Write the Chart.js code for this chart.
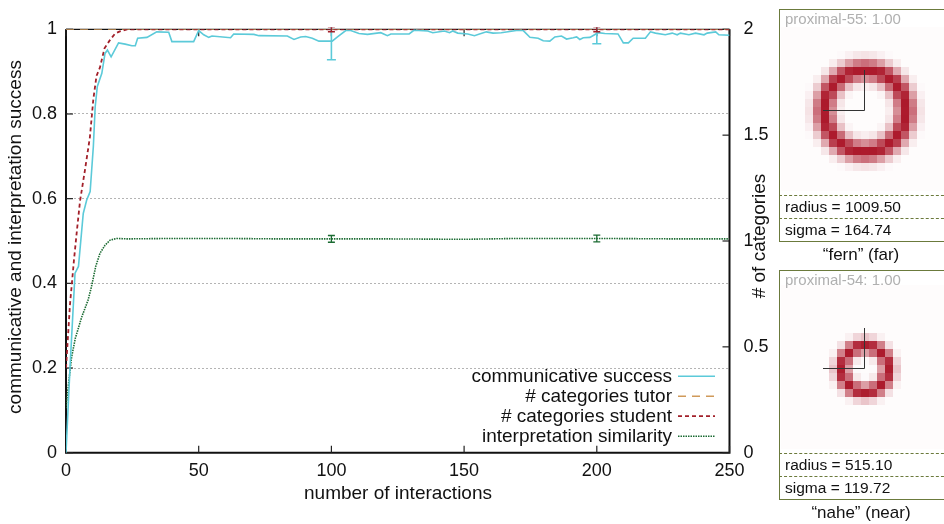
<!DOCTYPE html>
<html>
<head>
<meta charset="utf-8">
<script src="https://cdn.jsdelivr.net/npm/chart.js@4.4.0/dist/chart.umd.min.js"></script>
<style>
body { margin: 0; background: #fff; }
#wrap { position: relative; width: 944px; height: 524px; overflow: hidden; font-family: 'Liberation Sans', Arial, sans-serif; }
#chartBox { position: absolute; left: 0; top: 0; width: 944px; height: 524px; }
.panel { position: absolute; left: 779px; width: 175px; box-sizing: border-box; border: 1.5px solid #6b7a3c; }
.abs { position: absolute; white-space: nowrap; }
.dash { position: absolute; left: 779px; width: 170px; border-top: 1.5px dashed #6b7a3c; }
.lbl { color: #b0b0b0; font-size: 15px; line-height: 18px; left: 785px; }
.val { color: #111; font-size: 15.5px; line-height: 19px; left: 785px; }
.cap { color: #111; font-size: 17px; line-height: 20px; left: 779px; width: 164px; text-align: center; }
</style>
</head>
<body>
<div id="wrap">
  <div id="chartBox"><canvas id="lineChart"></canvas></div>
</div>
<script>
// number of interactions vs. communicative success
const commX = [0, 1.5, 3.4, 4.7, 6.5, 7.8, 9.1, 10.3, 11.0, 11.8,
  13.5, 14.7, 15.6, 17.0, 19.8, 22.3, 24.8, 26.1, 27.0, 30.5,
  34.2, 38.7, 39.9, 48.1, 50.0, 51.9, 53.8, 55.0, 62.0, 63.2,
  70.8, 72.7, 83.4, 85.9, 88.4, 90.3, 92.8, 95.3, 100.3, 102.3,
  105.4, 107.3, 110.4, 113.6, 118.6, 121.1, 122.4, 129.3, 131.2, 136.3,
  138.2, 142.6, 144.5, 145.7, 147.6, 151.4, 153.9, 155.8, 158.4, 160.9,
  164.0, 169.7, 172.3, 174.8, 177.9, 179.8, 182.3, 184.2, 186.7, 188.6,
  191.1, 192.4, 193.6, 194.9, 197.4, 200.5, 203.0, 208.0, 210.0, 211.9,
  213.7, 218.3, 220.2, 222.1, 225.8, 228.4, 230.3, 231.5, 234.7, 237.2,
  240.4, 241.6, 244.8, 246.0, 250];
const commY = [0, 0.2, 0.424, 0.44, 0.565, 0.597, 0.617, 0.723, 0.817, 0.865,
  0.896, 0.943, 0.951, 0.935, 0.968, 0.965, 0.961, 0.961, 0.979, 0.981,
  0.994, 0.993, 0.971, 0.971, 0.997, 0.987, 0.981, 0.984, 0.980, 0.989,
  0.988, 0.985, 0.984, 0.976, 0.982, 0.983, 0.979, 0.972, 0.972, 0.982,
  0.997, 0.997, 0.990, 0.988, 0.992, 0.985, 0.989, 0.989, 0.998, 0.996,
  0.992, 0.996, 0.992, 0.996, 0.991, 0.989, 0.985, 0.989, 0.994, 0.991,
  0.992, 0.997, 0.997, 0.981, 0.979, 0.973, 0.972, 0.982, 0.984, 0.977,
  0.980, 0.982, 0.976, 0.980, 0.981, 0.992, 0.990, 0.989, 0.968, 0.968,
  0.979, 0.979, 0.994, 0.991, 0.987, 0.991, 0.987, 0.991, 0.987, 0.991,
  0.987, 0.991, 0.994, 0.987, 0.986];

// # categories (right axis)
const tutorX = [0, 250];
const tutorY = [2, 2];
const studentX = [0, 0.3, 1.5, 3.0, 4.2, 5.3, 7.2, 9.0, 10.3, 11.5, 12.8, 14.5, 16.6, 18.5, 20.3, 23, 250];
const studentY = [0.4, 0.46, 0.7, 0.91, 1.06, 1.19, 1.34, 1.49, 1.67, 1.78, 1.82, 1.91, 1.95, 1.98, 1.99, 2.0, 2.0];

// interpretation similarity
const simX = [0, 0.9, 2.1, 3.5, 5.9, 8.3, 9.6, 11.2, 12.8, 14.7, 16.6, 19.1, 23, 40, 60, 80, 100, 120, 150, 170, 200, 230, 250];
const simY = [0.105, 0.16, 0.225, 0.27, 0.32, 0.36, 0.392, 0.44, 0.471, 0.49, 0.502, 0.506, 0.505, 0.506, 0.506, 0.505, 0.505, 0.505, 0.504, 0.506, 0.506, 0.505, 0.505];

// error bars
const errX = [100, 200];
const commErrMean = [0.972, 0.992];
const commErr = [0.044, 0.026];
const simErrMean = [0.505, 0.506];
const simErr = [0.008, 0.008];
const studentErrMean = [2, 2];
const studentErr = [0.012, 0.012];

// side panels
const panelNames = ['proximal-55', 'proximal-54'];
const panelScores = [1.00, 1.00];
const panelRadius = [1009.50, 515.10];
const panelSigma = [164.74, 119.72];
const panelCaptions = ['\u201cfern\u201d (far)', '\u201cnahe\u201d (near)'];

const FONT = "'Liberation Sans', Arial, sans-serif";

function pts(xs, ys) {
  return xs.map((x, i) => ({ x: x, y: ys[i] }));
}

const datasets = [
  { label: 'communicative success', data: pts(commX, commY), borderColor: '#5ccad9', borderWidth: 1.6, yAxisID: 'y', order: 1 },
  { label: '# categories tutor', data: pts(tutorX, tutorY), borderColor: '#d09a5a', borderWidth: 1.6, borderDash: [8, 6], yAxisID: 'y2', order: 3 },
  { label: '# categories student', data: pts(studentX, studentY), borderColor: '#a2202a', borderWidth: 1.8, borderDash: [4, 3], yAxisID: 'y2', order: 2 },
  { label: 'interpretation similarity', data: pts(simX, simY), borderColor: '#1b6b32', borderWidth: 1.6, borderDash: [1.5, 1], yAxisID: 'y', order: 4 }
];
datasets.forEach(d => { d.pointRadius = 0; d.fill = false; d.tension = 0; });

const framePlugin = {
  id: 'frame',
  beforeDatasetsDraw(chart) {
    const { ctx, chartArea: a, scales } = chart;
    ctx.save();
    ctx.strokeStyle = '#111';
    ctx.lineWidth = 2;
    ctx.beginPath();
    ctx.moveTo(a.left, a.top); ctx.lineTo(a.left, a.bottom); ctx.lineTo(a.right, a.bottom); ctx.lineTo(a.right, a.top);
    ctx.stroke();
    ctx.lineWidth = 1.3;
    ctx.beginPath(); ctx.moveTo(a.left, a.top); ctx.lineTo(a.right, a.top); ctx.stroke();
    // inward ticks
    ctx.lineWidth = 1.2;
    ctx.strokeStyle = '#222';
    scales.x.ticks.forEach(t => {
      const px = scales.x.getPixelForValue(t.value);
      ctx.beginPath();
      ctx.moveTo(px, a.bottom); ctx.lineTo(px, a.bottom - 7);
      ctx.moveTo(px, a.top); ctx.lineTo(px, a.top + 7);
      ctx.stroke();
    });
    scales.y.ticks.forEach(t => {
      const py = scales.y.getPixelForValue(t.value);
      ctx.beginPath(); ctx.moveTo(a.left, py); ctx.lineTo(a.left + 7, py); ctx.stroke();
    });
    scales.y2.ticks.forEach(t => {
      const py = scales.y2.getPixelForValue(t.value);
      ctx.beginPath(); ctx.moveTo(a.right, py); ctx.lineTo(a.right - 7, py); ctx.stroke();
    });
    ctx.restore();
  },
  afterDatasetsDraw(chart) {
    const { ctx, chartArea: a, scales } = chart;
    ctx.save();
    ctx.beginPath();
    ctx.rect(a.left - 2, a.top - 2, a.right - a.left + 4, a.bottom - a.top + 4);
    ctx.clip();
    const bars = (mean, err, scale, color, cap, width) => {
      ctx.strokeStyle = color;
      ctx.lineWidth = width;
      errX.forEach((x, i) => {
        const px = scales.x.getPixelForValue(x);
        const lo = scale.getPixelForValue(mean[i] - err[i]);
        const hi = scale.getPixelForValue(mean[i] + err[i]);
        ctx.beginPath();
        ctx.moveTo(px, lo); ctx.lineTo(px, hi);
        ctx.moveTo(px - cap, lo); ctx.lineTo(px + cap, lo);
        ctx.moveTo(px - cap, hi); ctx.lineTo(px + cap, hi);
        ctx.stroke();
      });
    };
    bars(commErrMean, commErr, scales.y, '#5ccad9', 4.5, 1.6);
    bars(simErrMean, simErr, scales.y, '#1b6b32', 3.5, 1.3);
    bars(studentErrMean, studentErr, scales.y2, '#a2202a', 3.5, 1.5);
    ctx.restore();

    // legend, text right aligned with the sample after it
    ctx.save();
    ctx.font = '19px ' + FONT;
    ctx.textAlign = 'right';
    ctx.textBaseline = 'middle';
    chart.data.datasets.forEach((d, i) => {
      const y = a.bottom - 76.5 + i * 20;
      ctx.fillStyle = '#111';
      ctx.fillText(d.label, a.right - 57.5, y + 1);
      ctx.strokeStyle = d.borderColor;
      ctx.lineWidth = d.borderWidth;
      ctx.setLineDash(d.borderDash || []);
      ctx.beginPath();
      ctx.moveTo(a.right - 51.5, y); ctx.lineTo(a.right - 14.5, y);
      ctx.stroke();
    });
    ctx.restore();
  },
  afterDraw(chart) {
    const { ctx, chartArea: a } = chart;
    ctx.save();
    ctx.font = '19px ' + FONT;
    ctx.fillStyle = '#111';
    ctx.textAlign = 'center';
    ctx.textBaseline = 'middle';
    ctx.fillText('number of interactions', 398, 494);
    ctx.translate(16, 237);
    ctx.rotate(-Math.PI / 2);
    ctx.fillText('communicative and interpretation success', 0, 0);
    ctx.restore();
    ctx.save();
    ctx.font = '19px ' + FONT;
    ctx.fillStyle = '#111';
    ctx.textAlign = 'center';
    ctx.textBaseline = 'middle';
    ctx.translate(760, 236);
    ctx.rotate(-Math.PI / 2);
    ctx.fillText('# of categories', 0, 0);
    ctx.restore();
  }
};

const tickFont = { family: FONT, size: 18 };
const plainNum = v => String(+Number(v).toFixed(2));

// eslint-disable-next-line
const lineChart = new Chart(
  document.getElementById('lineChart'),
  {
    type: 'line',
    data: { datasets: datasets },
    options: {
      responsive: true,
      maintainAspectRatio: false,
      animation: false,
      layout: { padding: { top: 29.3, left: 0, right: 0, bottom: 0 } },
      plugins: { legend: { display: false }, tooltip: { enabled: false } },
      scales: {
        x: {
          type: 'linear', min: 0, max: 250,
          ticks: { stepSize: 50, padding: 8, color: '#111', font: tickFont, maxRotation: 0, callback: plainNum },
          grid: { display: false, drawTicks: false },
          border: { display: false },
          afterFit: s => { s.height = 71.3; }
        },
        y: {
          position: 'left', min: 0, max: 1,
          ticks: { stepSize: 0.2, padding: 9, color: '#111', font: tickFont, callback: plainNum },
          grid: {
            drawTicks: false, lineWidth: 1,
            color: c => (c.tick.value === 0 || c.tick.value === 1) ? 'rgba(0,0,0,0)' : '#b4b4b4'
          },
          border: { display: false, dash: [2, 2] },
          afterFit: s => { s.width = 66; }
        },
        y2: {
          position: 'right', min: 0, max: 2,
          ticks: { stepSize: 0.5, padding: 14, color: '#111', font: tickFont, callback: plainNum },
          grid: { display: false, drawTicks: false },
          border: { display: false },
          afterFit: s => { s.width = 214.5; }
        }
      }
    },
    plugins: [framePlugin]
  }
);

// side panels with the category heat maps
const wrap = document.getElementById('wrap');
function add(cls, text, top, extra) {
  const el = document.createElement('div');
  el.className = cls;
  el.style.top = top + 'px';
  if (text) el.textContent = text;
  if (extra) Object.assign(el.style, extra);
  wrap.appendChild(el);
  return el;
}

function drawRing(cv, radius, sigma) {
  const c = cv.getContext('2d');
  const R = radius * 0.036 + 4.5, s = sigma * 0.045, cell = 8, cx = 84, cy = 84;
  for (let i = 0; i < 21; i++) {
    for (let j = 0; j < 21; j++) {
      const mx = i * cell + cell / 2, my = j * cell + cell / 2;
      const d = Math.hypot(mx - cx, my - cy);
      let t = Math.exp(-((d - R) * (d - R)) / (2 * s * s));
      t = Math.max(t, 0.012);
      const r = Math.round(255 - t * (255 - 172));
      const g = Math.round(255 - t * (255 - 26));
      const b = Math.round(255 - t * (255 - 44));
      c.fillStyle = 'rgb(' + r + ',' + g + ',' + b + ')';
      c.fillRect(i * cell, j * cell, cell, cell);
    }
  }
  c.strokeStyle = '#333';
  c.lineWidth = 1;
  c.beginPath();
  c.moveTo(cx - 0.5, cy - 41); c.lineTo(cx - 0.5, cy - 0.5); c.lineTo(cx - 42, cy - 0.5);
  c.stroke();
}

const panelTops = [9, 270];
const panelHeights = [233, 230];
panelNames.forEach((name, k) => {
  const top = panelTops[k];
  const h = panelHeights[k];
  add('panel', '', top, { height: h + 'px' });
  const cv = document.createElement('canvas');
  cv.width = 163; cv.height = 164;
  Object.assign(cv.style, { position: 'absolute', left: '780.5px', top: (top + (k === 0 ? 18 : 15)) + 'px' });
  wrap.appendChild(cv);
  drawRing(cv, panelRadius[k], panelSigma[k]);
  add('abs lbl', name + ': ' + panelScores[k].toFixed(2), top + 0.5);
  add('dash', '', top + h - 47);
  add('abs val', 'radius = ' + panelRadius[k].toFixed(2), top + h - 45.5);
  add('dash', '', top + h - 24);
  add('abs val', 'sigma = ' + panelSigma[k].toFixed(2), top + h - 22.5);
  add('abs cap', panelCaptions[k], top + h + 3);
});
</script>
</body>
</html>
